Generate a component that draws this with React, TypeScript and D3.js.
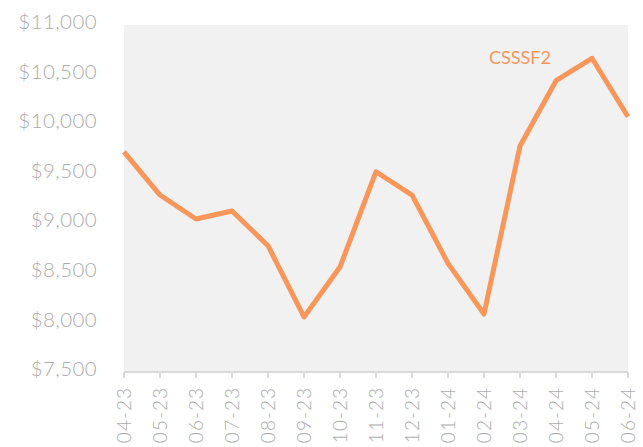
import React from "react";
import * as d3 from "d3";

const categories = ["04-23","05-23","06-23","07-23","08-23","09-23","10-23","11-23","12-23","01-24","02-24","03-24","04-24","05-24","06-24"];
const values = [9720, 9285, 9043, 9124, 8774, 8055, 8559, 9520, 9285, 8596, 8085, 9780, 10438, 10664, 10075];
const yTicks = [7500, 8000, 8500, 9000, 9500, 10000, 10500, 11000];
const seriesName = "CSSSF2";

const W = 643, H = 447;
const M = { left: 124, right: 15, top: 25, bottom: 75 };

export default function App() {
  const x = d3.scalePoint<string>().domain(categories).range([M.left, W - M.right]);
  const y = d3.scaleLinear().domain([7500, 11000]).range([H - M.bottom, M.top]);
  const line = d3.line<number>().x((_, i) => x(categories[i]) as number).y((d) => y(d));
  const fmt = (v: number) => "$" + d3.format(",")(v);
  const axisY = H - M.bottom;
  return (
    <svg width={W} height={H} style={{ position: "absolute", left: 0, top: 0 }} fontFamily="Lato">
      <rect x={M.left} y={M.top} width={W - M.right - M.left} height={axisY - M.top} fill="#f1f1f1" />
      {yTicks.map((t) => (
        <text key={t} x={97} y={y(t) - 3} dy="0.35em" textAnchor="end" fontSize={20.5} fontWeight={300} fill="#ababab" letterSpacing={0.4}>
          {fmt(t)}
        </text>
      ))}
      <line x1={M.left} x2={W - M.right} y1={axisY} y2={axisY} stroke="#d9d9d9" strokeWidth={2} />
      {categories.map((c) => (
        <g key={c} transform={`translate(${x(c)},${axisY})`}>
          <line y1={0} y2={6} stroke="#d9d9d9" strokeWidth={2} />
          <text transform="rotate(-90)" x={-15} dy="0.35em" textAnchor="end" fontSize={19} fontWeight={300} fill="#ababab" letterSpacing={1}>
            {c}
          </text>
        </g>
      ))}
      <path d={line(values) || ""} fill="none" stroke="#f9975b" strokeWidth={5} strokeLinejoin="round" />
      <text x={551} y={58} dy="0.35em" textAnchor="end" fontSize={18} fill="#f9975b">{seriesName}</text>
    </svg>
  );
}
